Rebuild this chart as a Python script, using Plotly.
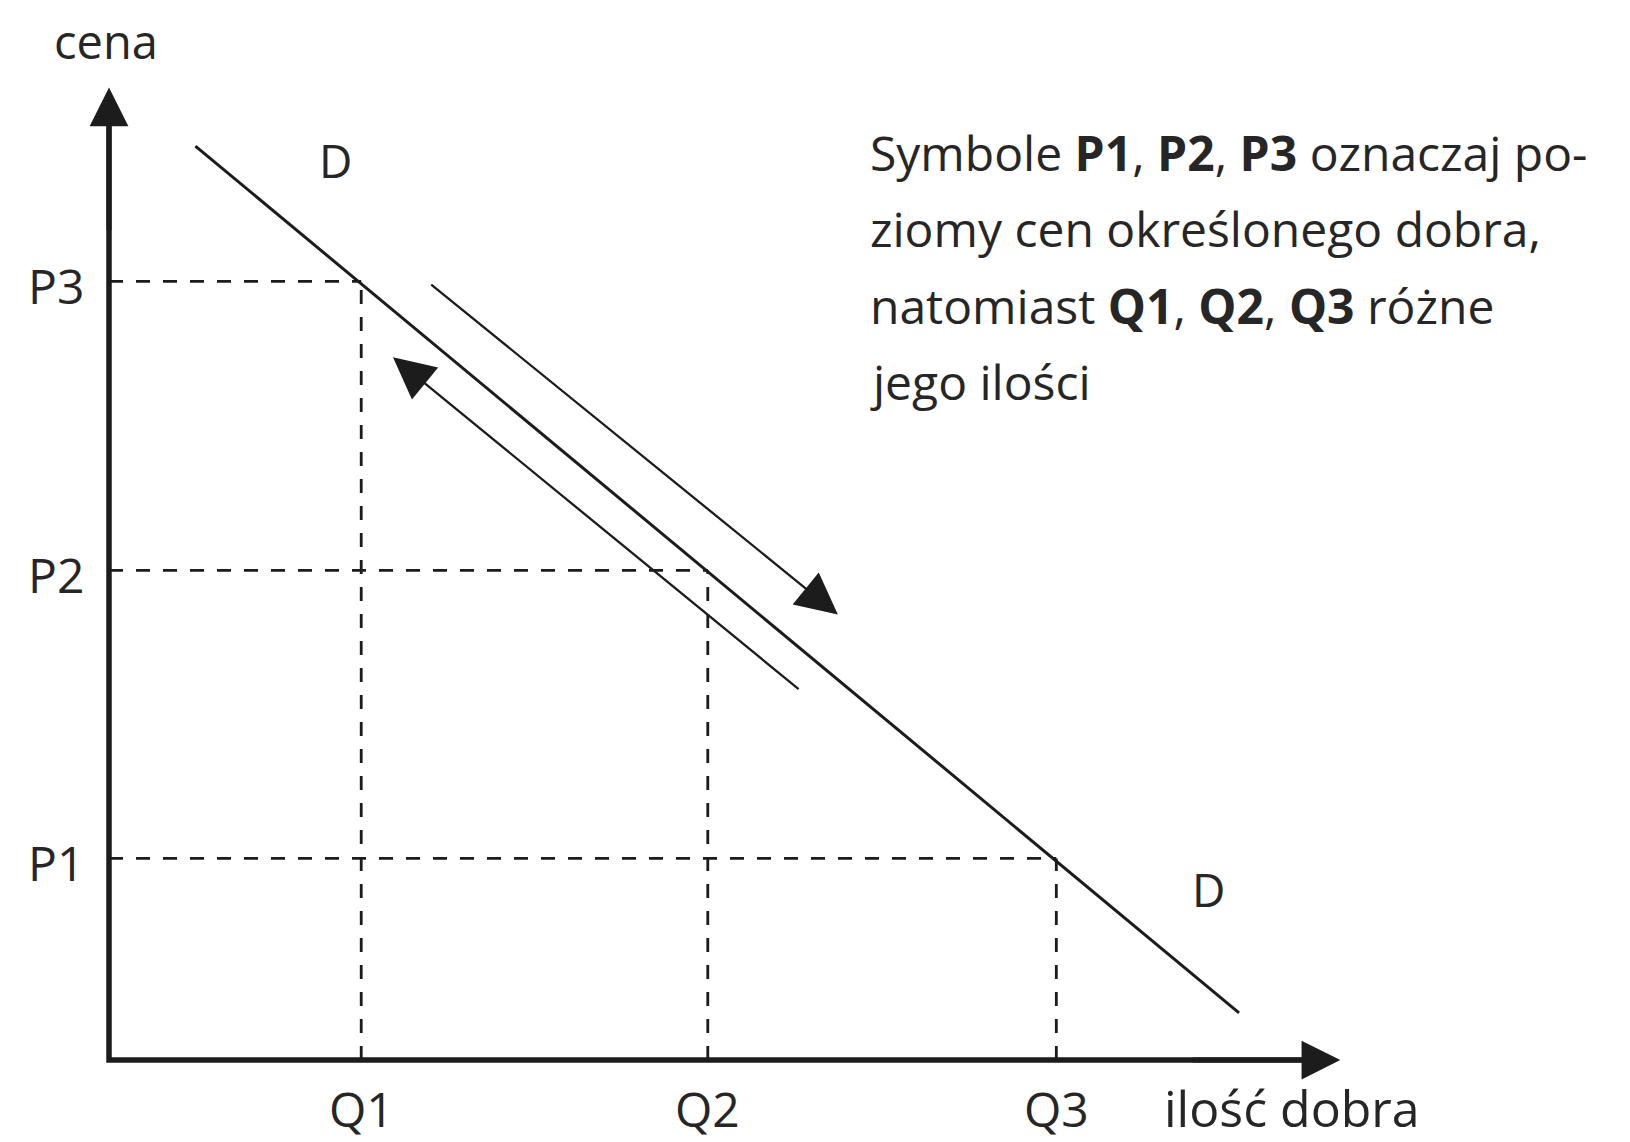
import plotly.graph_objects as go

# ---------------- data (economic units) ----------------
quantities = [2.54, 6.03, 9.54]          # Q1, Q2, Q3
prices_at_q = [8.11, 5.10, 2.10]         # P3, P2, P1 (price on demand curve at each Q)
q_labels = ["Q1", "Q2", "Q3"]
p_labels = ["P3", "P2", "P1"]
demand_x = [0.87, 11.38]
demand_y = [9.52, 0.49]
arrow_down_x = [3.23, 7.34]              # tail -> tip (movement down the curve)
arrow_down_y = [8.09, 4.64]
arrow_up_x = [6.96, 2.86]                # tail -> tip (movement up the curve)
arrow_up_y = [3.85, 7.32]
axis_x_end = 12.4
axis_y_end = 10.13
axis_titles = ["cena", "ilość dobra"]
curve_label = "D"
note_lines = [
    "Symbole <b>P1</b>, <b>P2</b>, <b>P3</b> oznaczaj po-",
    "ziomy cen określonego dobra,",
    "natomiast <b>Q1</b>, <b>Q2</b>, <b>Q3</b> różne",
    "jego ilości",
]

# ---------------- layout constants ----------------
PAGE_W, PAGE_H = 1630, 1142
BODY = 8                                  # default page margin around the figure
W, H = PAGE_W - BODY, PAGE_H - BODY
X0_PX, Y0_PX = 109, 1060                  # origin position on the page (pixels)
XU, YU = 99.3, 96.0                       # pixels per data unit
LINE = "#1c1c1c"
TXT = "#262626"
FONT = "Open Sans"


def fx(px):
    return (px - X0_PX) / XU


def fy(py):
    return (Y0_PX - py) / YU


x_range = [fx(BODY), fx(PAGE_W)]
y_range = [fy(PAGE_H), fy(BODY)]

fig = go.Figure()

DASH = dict(color=LINE, width=2.8, dash="14px,13px")
for q, p in zip(quantities, prices_at_q):
    fig.add_trace(go.Scatter(x=[0, q], y=[p, p], mode="lines", line=DASH,
                             hoverinfo="skip", showlegend=False))
    fig.add_trace(go.Scatter(x=[q, q], y=[0, p], mode="lines", line=DASH,
                             hoverinfo="skip", showlegend=False))

# demand curve
fig.add_trace(go.Scatter(x=demand_x, y=demand_y, mode="lines",
                         line=dict(color=LINE, width=3),
                         hoverinfo="skip", showlegend=False))

# axes lines
fig.add_trace(go.Scatter(x=[0, 0, axis_x_end - 0.3], y=[axis_y_end - 0.3, 0, 0], mode="lines",
                         line=dict(color=LINE, width=5.5),
                         hoverinfo="skip", showlegend=False))

annotations = []
annotations.append(dict(x=0, y=axis_y_end, ax=0, ay=axis_y_end - 1.5,
                        xref="x", yref="y", axref="x", ayref="y", text="",
                        showarrow=True, arrowhead=2, arrowsize=1.55, arrowwidth=5,
                        arrowcolor=LINE, standoff=0))
annotations.append(dict(x=axis_x_end, y=0, ax=axis_x_end - 1.5, ay=0,
                        xref="x", yref="y", axref="x", ayref="y", text="",
                        showarrow=True, arrowhead=2, arrowsize=1.55, arrowwidth=5,
                        arrowcolor=LINE, standoff=0))
for xs, ys in [(arrow_down_x, arrow_down_y), (arrow_up_x, arrow_up_y)]:
    annotations.append(dict(x=xs[1], y=ys[1], ax=xs[0], ay=ys[0],
                            xref="x", yref="y", axref="x", ayref="y", text="",
                            showarrow=True, arrowhead=2, arrowsize=3.6, arrowwidth=2.3,
                            arrowcolor=LINE, standoff=0))


def label(text, x, y, size, xanchor="center"):
    return dict(text=text, x=x, y=y, xref="x", yref="y", showarrow=False,
                xanchor=xanchor, yanchor="middle",
                font=dict(family=FONT, size=size, color=TXT))


for q, lab in zip(quantities, q_labels):
    annotations.append(label(lab, q, fy(1108), 48))
for p, lab in zip(prices_at_q, p_labels):
    annotations.append(label(lab, fx(56), p - 4 / YU, 48))

annotations.append(label(axis_titles[0], fx(106), fy(41), 47))
annotations.append(label(axis_titles[1], fx(1292), fy(1108), 50))
annotations.append(label(curve_label, fx(335), fy(160), 46))
annotations.append(label(curve_label, fx(1208), fy(889), 46))

for i, line in enumerate(note_lines):
    annotations.append(label(line, fx(868), fy(152 + 76.5 * i), 48, xanchor="left"))

fig.update_layout(
    width=W, height=H,
    margin=dict(l=0, r=0, t=0, b=0),
    paper_bgcolor="white", plot_bgcolor="white",
    xaxis=dict(range=x_range, visible=False, fixedrange=True),
    yaxis=dict(range=y_range, visible=False, fixedrange=True),
    annotations=annotations,
    showlegend=False,
)

fig.write_html("out.html")
